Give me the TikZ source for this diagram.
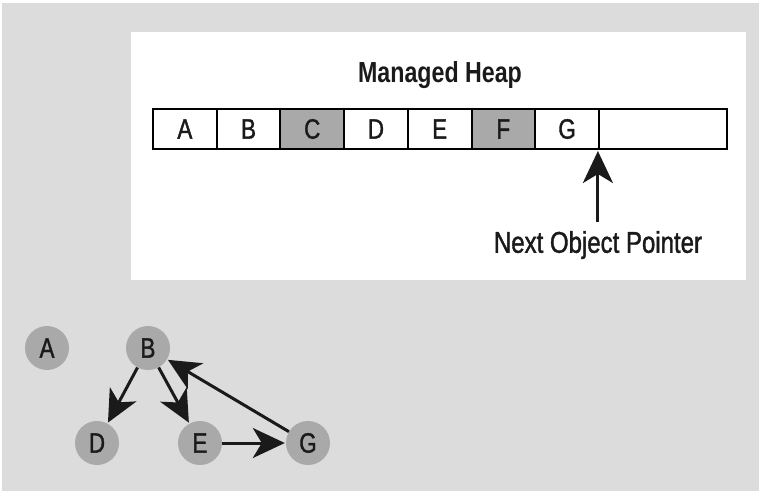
\documentclass[tikz,border=0pt]{standalone}
\usepackage{fontspec}
\setmainfont[FakeStretch=0.8]{Liberation Sans}
\newfontfamily\medfont[FakeStretch=0.8,FakeBold=1.3]{Liberation Sans}
\usetikzlibrary{arrows.meta}
\definecolor{bg}{HTML}{DCDCDC}
\definecolor{nodegray}{HTML}{A9A9A9}
\definecolor{ink}{HTML}{1A1A1A}
\begin{document}
\begin{tikzpicture}[x=1pt,y=-1pt,
  cell/.style={draw=black,line width=2pt,minimum height=40pt,inner sep=0pt,text=ink,font=\medfont\fontsize{28}{28}\selectfont,anchor=north west},
  obj/.style={circle,fill=nodegray,minimum size=44pt,inner sep=0pt,text=ink,font=\medfont\fontsize{28}{28}\selectfont},
  conn/.style={draw=ink,line width=3pt,-{Stealth[length=32pt,width=30pt,inset=9pt]},shorten >=1pt}]
\useasboundingbox (0,0) rectangle (759,491);
\fill[white] (0,0) rectangle (759,491);
\fill[bg] (2,3) rectangle (759,491);
\fill[white] (131,32) rectangle (746,280);
\node[text=ink,font=\bfseries\fontsize{29}{29}\selectfont] (title) at (440,75) {Managed Heap};
\node[cell,minimum width=63.7pt] (cA) at (152,108) {A};
\node[cell,minimum width=63.7pt] (cB) at (215.7,108) {B};
\node[cell,minimum width=63.7pt,fill=nodegray] (cC) at (279.4,108) {C};
\node[cell,minimum width=63.7pt] (cD) at (343.1,108) {D};
\node[cell,minimum width=63.7pt] (cE) at (406.8,108) {E};
\node[cell,minimum width=63.7pt,fill=nodegray] (cF) at (470.5,108) {F};
\node[cell,minimum width=63.7pt] (cG) at (534.2,108) {G};
\node[cell,minimum width=128pt] (cFree) at (597.9,108) {};
\node[text=ink,font=\medfont\fontsize{30}{30}\selectfont] (ptr) at (598,245) {Next Object Pointer};
\coordinate (ptrtop) at (597.9,222);
\draw[conn] (ptrtop) -- (cFree.south west);
\node[obj] (A) at (47,348) {A};
\node[obj] (B) at (148,348) {B};
\node[obj] (D) at (97,443) {D};
\node[obj] (E) at (200,443) {E};
\node[obj] (G) at (308,443) {G};
\draw[conn] (B) -- (D);
\draw[conn] (B) -- (E);
\draw[conn] (E) -- (G);
\draw[conn] (G) -- (B);
\end{tikzpicture}
\end{document}
